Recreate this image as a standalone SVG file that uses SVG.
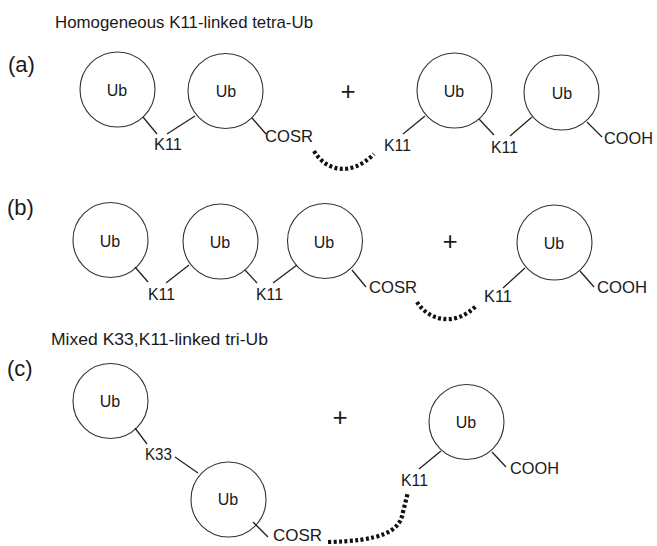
<svg xmlns="http://www.w3.org/2000/svg" width="657" height="546" viewBox="0 0 657 546">
<style>
.ub{fill:#fff;stroke:#333;stroke-width:1.1}
.t{font-family:"Liberation Sans",Arial,sans-serif;fill:#1a1a1a}
.lbl{font-size:17px}
.ubt{font-size:16px;text-anchor:middle}
.ttl{font-size:17px}
.pan{font-size:22px}
.plus{font-size:26px;text-anchor:middle}
.ln{stroke:#222;stroke-width:1.3;fill:none}
.dot{stroke:#111;stroke-width:4.2;fill:none;stroke-dasharray:3 2.4}
</style>
<rect width="657" height="546" fill="#fff"/>
<text class="t ttl" x="55" y="28" textLength="258" lengthAdjust="spacingAndGlyphs">Homogeneous K11-linked tetra-Ub</text>
<text class="t ttl" x="51" y="345" textLength="217" lengthAdjust="spacingAndGlyphs">Mixed K33,K11-linked tri-Ub</text>
<text class="t pan" x="8" y="72">(a)</text>
<text class="t pan" x="7" y="215">(b)</text>
<text class="t pan" x="7" y="376">(c)</text>

<g id="a1"><circle class="ub" cx="117.5" cy="89.5" r="37.5"/><text class="t ubt" x="117" y="96">Ub</text></g>
<g id="a2"><circle class="ub" cx="225.5" cy="91" r="37.5"/><text class="t ubt" x="226" y="97">Ub</text></g>
<g id="a-plus"><text class="t plus" x="348" y="100">+</text></g>
<g id="a3"><circle class="ub" cx="454.5" cy="90.5" r="37.5"/><text class="t ubt" x="454" y="97">Ub</text></g>
<g id="a4"><circle class="ub" cx="561.5" cy="92.5" r="37.5"/><text class="t ubt" x="562" y="99">Ub</text></g>
<g id="a-labels">
<text class="t lbl" x="154" y="150" textLength="28" lengthAdjust="spacingAndGlyphs">K11</text>
<text class="t lbl" x="265" y="142" textLength="48" lengthAdjust="spacingAndGlyphs">COSR</text>
<text class="t lbl" x="384" y="151" textLength="27" lengthAdjust="spacingAndGlyphs">K11</text>
<text class="t lbl" x="491" y="153" textLength="27" lengthAdjust="spacingAndGlyphs">K11</text>
<text class="t lbl" x="604" y="144" textLength="49" lengthAdjust="spacingAndGlyphs">COOH</text>
</g>

<g id="b1"><circle class="ub" cx="110.5" cy="240" r="37.5"/><text class="t ubt" x="110" y="247">Ub</text></g>
<g id="b2"><circle class="ub" cx="220.5" cy="241.5" r="37.5"/><text class="t ubt" x="220" y="248">Ub</text></g>
<g id="b3"><circle class="ub" cx="325" cy="241" r="37.5"/><text class="t ubt" x="324" y="248">Ub</text></g>
<g id="b-plus"><text class="t plus" x="450" y="250">+</text></g>
<g id="b4"><circle class="ub" cx="554.5" cy="242.5" r="37.5"/><text class="t ubt" x="554" y="249">Ub</text></g>
<g id="b-labels">
<text class="t lbl" x="148" y="300" textLength="27" lengthAdjust="spacingAndGlyphs">K11</text>
<text class="t lbl" x="256" y="300" textLength="27" lengthAdjust="spacingAndGlyphs">K11</text>
<text class="t lbl" x="369" y="293" textLength="48" lengthAdjust="spacingAndGlyphs">COSR</text>
<text class="t lbl" x="484" y="302" textLength="28" lengthAdjust="spacingAndGlyphs">K11</text>
<text class="t lbl" x="597" y="293" textLength="50" lengthAdjust="spacingAndGlyphs">COOH</text>
</g>

<g id="c1"><circle class="ub" cx="110.5" cy="401" r="37.5"/><text class="t ubt" x="110" y="407">Ub</text></g>
<g id="c2"><circle class="ub" cx="228.5" cy="499.5" r="37.5"/><text class="t ubt" x="228" y="505">Ub</text></g>
<g id="c-plus"><text class="t plus" x="340" y="426">+</text></g>
<g id="c3"><circle class="ub" cx="466.5" cy="422" r="37.5"/><text class="t ubt" x="466" y="428">Ub</text></g>
<g id="c-labels">
<text class="t lbl" x="145" y="460" textLength="27" lengthAdjust="spacingAndGlyphs">K33</text>
<text class="t lbl" x="273" y="541" textLength="49" lengthAdjust="spacingAndGlyphs">COSR</text>
<text class="t lbl" x="401" y="486" textLength="27" lengthAdjust="spacingAndGlyphs">K11</text>
<text class="t lbl" x="510" y="474" textLength="49" lengthAdjust="spacingAndGlyphs">COOH</text>
</g>

<g id="connectors">
<line class="ln" x1="143" y1="117" x2="157" y2="134"/>
<line class="ln" x1="167" y1="134" x2="195" y2="116"/>
<line class="ln" x1="252" y1="118" x2="266" y2="134"/>
<line class="ln" x1="403" y1="134" x2="425" y2="116"/>
<line class="ln" x1="479" y1="119" x2="494" y2="135"/>
<line class="ln" x1="510" y1="136" x2="532" y2="117"/>
<line class="ln" x1="587" y1="122" x2="602" y2="137"/>
<path class="dot" d="M314,151 C325,170 350,178 374,154"/>

<line class="ln" x1="135" y1="267" x2="148" y2="282"/>
<line class="ln" x1="166" y1="283" x2="189" y2="265"/>
<line class="ln" x1="245" y1="270" x2="257" y2="283"/>
<line class="ln" x1="273" y1="283" x2="297" y2="265"/>
<line class="ln" x1="352" y1="270" x2="366" y2="287"/>
<line class="ln" x1="503" y1="288" x2="525" y2="268"/>
<line class="ln" x1="580" y1="271" x2="594" y2="287"/>
<path class="dot" d="M417,302 C428,320 455,328 477,305"/>

<line class="ln" x1="135" y1="428" x2="147" y2="444"/>
<line class="ln" x1="175" y1="457" x2="198" y2="473"/>
<line class="ln" x1="253" y1="522" x2="268" y2="537"/>
<line class="ln" x1="419" y1="469" x2="441" y2="451"/>
<line class="ln" x1="492" y1="452" x2="506" y2="467"/>
<path class="dot" d="M328,542 C380,541 400,532 403,512 L408,492"/>
</g>
</svg>
